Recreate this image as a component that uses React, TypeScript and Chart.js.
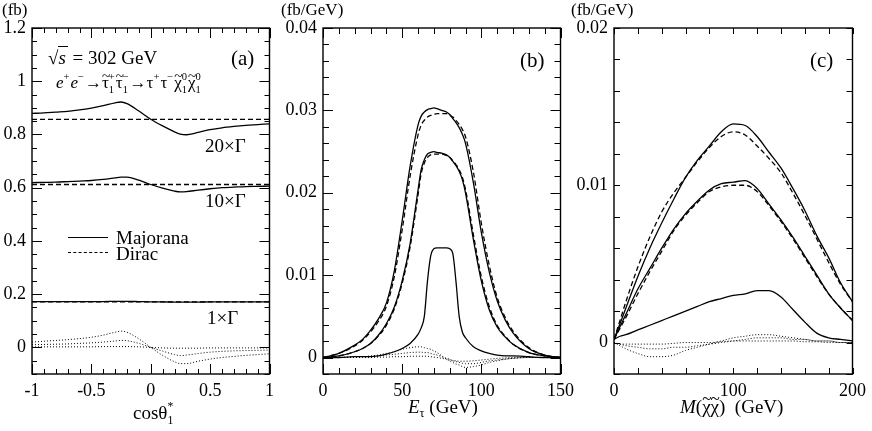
import React, { useEffect, useRef } from "react";
import { Chart, registerables } from "chart.js";

Chart.register(...registerables);

const SERIF = '"Liberation Serif", "Times New Roman", serif';

// ---- panel (a): cos(theta*) distributions (fb) ----
const cosGrid = [-1, -0.9, -0.8, -0.7, -0.6, -0.5, -0.4, -0.3, -0.25, -0.2, -0.1, 0, 0.1, 0.2, 0.25, 0.3, 0.4, 0.5, 0.6, 0.7, 0.8, 0.9, 1];
const cosMajorana20 = [0.879, 0.881, 0.884, 0.887, 0.892, 0.899, 0.908, 0.919, 0.922, 0.916, 0.888, 0.857, 0.832, 0.81, 0.801, 0.799, 0.808, 0.818, 0.825, 0.83, 0.834, 0.837, 0.84];
const cosDirac20 = [0.857, 0.857, 0.857, 0.857, 0.857, 0.857, 0.857, 0.857, 0.857, 0.857, 0.857, 0.857, 0.857, 0.857, 0.857, 0.857, 0.857, 0.857, 0.857, 0.857, 0.857, 0.857, 0.857];
const cosMajorana10 = [0.619, 0.62, 0.621, 0.623, 0.625, 0.627, 0.631, 0.637, 0.64, 0.64, 0.628, 0.612, 0.598, 0.587, 0.584, 0.585, 0.591, 0.596, 0.6, 0.602, 0.604, 0.605, 0.606];
const cosDirac10 = [0.612, 0.612, 0.612, 0.612, 0.612, 0.612, 0.612, 0.612, 0.612, 0.612, 0.612, 0.612, 0.612, 0.612, 0.612, 0.612, 0.612, 0.612, 0.612, 0.612, 0.612, 0.612, 0.612];
const cosMajorana1 = [0.172, 0.172, 0.172, 0.172, 0.172, 0.172, 0.172, 0.173, 0.173, 0.173, 0.172, 0.171, 0.171, 0.17, 0.17, 0.17, 0.17, 0.171, 0.171, 0.171, 0.171, 0.171, 0.171];
const cosDirac1 = [0.171, 0.171, 0.171, 0.171, 0.171, 0.171, 0.171, 0.171, 0.171, 0.171, 0.171, 0.171, 0.171, 0.171, 0.171, 0.171, 0.171, 0.171, 0.171, 0.171, 0.171, 0.171, 0.171];
const cosDiff20 = [0.02, 0.023, 0.026, 0.029, 0.033, 0.038, 0.046, 0.057, 0.061, 0.057, 0.032, 0, -0.03, -0.054, -0.061, -0.061, -0.052, -0.044, -0.038, -0.034, -0.03, -0.027, -0.024];
const cosDiff10 = [0.01, 0.011, 0.012, 0.013, 0.015, 0.017, 0.02, 0.024, 0.026, 0.025, 0.015, 0, -0.014, -0.027, -0.031, -0.029, -0.023, -0.018, -0.015, -0.013, -0.012, -0.011, -0.01];
const cosDiff1 = [0.002, 0.002, 0.002, 0.002, 0.002, 0.002, 0.003, 0.003, 0.003, 0.003, 0.002, 0, -0.002, -0.003, -0.003, -0.003, -0.003, -0.002, -0.002, -0.002, -0.002, -0.002, -0.002];

// ---- panel (b): tau energy (fb/GeV) ----
const eGrid = [0, 10, 20, 25, 30, 35, 40, 45, 50, 55, 60, 62, 64, 66, 68, 70, 72, 75, 78, 80, 82, 84, 86, 88, 90, 95, 100, 105, 110, 115, 120, 130, 140, 150];
const eMajorana20 = [0, 0.0005, 0.0015, 0.0022, 0.0033, 0.0047, 0.0066, 0.0105, 0.0166, 0.0232, 0.0282, 0.0293, 0.0298, 0.0301, 0.0302, 0.0303, 0.0302, 0.03, 0.0298, 0.0295, 0.029, 0.0285, 0.0279, 0.0271, 0.026, 0.0212, 0.0152, 0.0104, 0.0069, 0.0046, 0.003, 0.0011, 0.0003, 0];
const eDirac20 = [0, 0.0005, 0.0014, 0.0021, 0.0031, 0.0044, 0.0062, 0.0098, 0.0155, 0.022, 0.027, 0.0282, 0.0288, 0.0292, 0.0294, 0.0295, 0.0296, 0.0296, 0.0296, 0.0294, 0.0292, 0.0288, 0.0283, 0.0277, 0.0268, 0.0225, 0.0163, 0.0112, 0.0073, 0.0049, 0.0032, 0.0012, 0.0003, 0];
const eMajorana10 = [0, 0.0002, 0.0007, 0.0011, 0.0017, 0.0027, 0.0041, 0.0061, 0.0093, 0.0138, 0.0203, 0.0228, 0.024, 0.0247, 0.0249, 0.025, 0.0249, 0.0248, 0.0246, 0.0243, 0.0238, 0.0233, 0.0226, 0.0216, 0.02, 0.0143, 0.0093, 0.0058, 0.0037, 0.0025, 0.0016, 0.0006, 0.0002, 0];
const eDirac10 = [0, 0.0002, 0.0007, 0.0011, 0.0017, 0.0026, 0.0039, 0.0059, 0.009, 0.0134, 0.0197, 0.0223, 0.0236, 0.0243, 0.0246, 0.0247, 0.0247, 0.0247, 0.0245, 0.0243, 0.0239, 0.0234, 0.0228, 0.0219, 0.0204, 0.0149, 0.0098, 0.0062, 0.0039, 0.0026, 0.0016, 0.0006, 0.0002, 0];
const eMajorana1 = [0, 0, 0.0001, 0.0001, 0.0001, 0.0002, 0.0004, 0.0007, 0.0011, 0.0017, 0.0028, 0.0036, 0.005, 0.0093, 0.0123, 0.0132, 0.0133, 0.0133, 0.0133, 0.0132, 0.0126, 0.0092, 0.005, 0.0031, 0.0024, 0.0013, 0.0008, 0.0005, 0.0003, 0.0002, 0.0002, 0.0001, 0, 0];
const eDiff20 = [0, 0, 0.0001, 0.0001, 0.0002, 0.0003, 0.0005, 0.0007, 0.001, 0.0012, 0.0013, 0.0013, 0.0012, 0.0011, 0.001, 0.0008, 0.0006, 0.0002, -0.0002, -0.0004, -0.0006, -0.0008, -0.0009, -0.0011, -0.0012, -0.0011, -0.0009, -0.0006, -0.0004, -0.0002, -0.0001, 0, 0, 0];
const eDiff10 = [0, 0, 0, 0.0001, 0.0001, 0.0002, 0.0003, 0.0004, 0.0005, 0.0006, 0.00065, 0.00065, 0.0006, 0.0006, 0.0005, 0.0004, 0.0003, 0.0001, -0.0001, -0.0002, -0.0004, -0.0005, -0.0006, -0.0007, -0.00075, -0.00075, -0.0006, -0.0004, -0.0003, -0.0002, -0.0001, 0, 0, 0];
const eDiff1 = [0, 0, 0, 0, 0, 0.00005, 0.00005, 0.0001, 0.0001, 0.00015, 0.00016, 0.00016, 0.00016, 0.00015, 0.0001, 0.00005, 0, -0.0001, -0.0002, -0.0003, -0.00035, -0.0004, -0.00045, -0.00045, -0.00045, -0.0004, -0.0003, -0.0002, -0.0001, -0.00005, 0, 0, 0, 0];

// ---- panel (c): invariant mass of the neutralino pair (fb/GeV) ----
const mGrid = [0, 5, 10, 20, 30, 40, 50, 60, 70, 80, 90, 100, 110, 120, 130, 140, 150, 160, 170, 180, 190, 200];
const mMajorana20 = [0.0002, 0.0012, 0.0022, 0.0042, 0.006, 0.0076, 0.0091, 0.0105, 0.0116, 0.0125, 0.0134, 0.0139, 0.0138, 0.0131, 0.0121, 0.0111, 0.0098, 0.0084, 0.0068, 0.0054, 0.0038, 0.0026];
const mDirac20 = [0.0002, 0.0014, 0.0026, 0.0048, 0.0067, 0.0083, 0.0095, 0.0105, 0.0115, 0.0124, 0.0131, 0.0134, 0.0132, 0.0125, 0.0117, 0.0108, 0.0095, 0.0081, 0.0066, 0.0051, 0.0037, 0.0026];
const mMajorana10 = [0.0002, 0.001, 0.0018, 0.0034, 0.0047, 0.006, 0.0072, 0.0082, 0.009, 0.0097, 0.0101, 0.0102, 0.0103, 0.0098, 0.0088, 0.0078, 0.0067, 0.0055, 0.0043, 0.0031, 0.0022, 0.0014];
const mDirac10 = [0.0002, 0.0009, 0.0016, 0.0031, 0.0045, 0.0058, 0.0071, 0.0081, 0.0089, 0.0096, 0.0099, 0.01, 0.01, 0.0096, 0.0087, 0.0077, 0.0066, 0.0054, 0.0042, 0.0031, 0.0022, 0.0014];
const mMajorana1 = [0.0002, 0.0004, 0.0005, 0.0008, 0.0011, 0.0014, 0.0017, 0.002, 0.0023, 0.0026, 0.0028, 0.003, 0.0031, 0.0033, 0.0033, 0.0029, 0.0021, 0.0013, 0.0006, 0.0003, 0.0002, 0.0001];
const mDiff20 = [0, -0.0002, -0.0004, -0.0007, -0.0009, -0.0009, -0.0008, -0.0005, -0.0003, -0.0001, 0.0001, 0.0003, 0.0004, 0.0005, 0.0005, 0.0004, 0.0003, 0.0002, 0.0001, 0.0001, 0, 0];
const mDiff10 = [0, -0.0001, -0.0002, -0.0003, -0.0004, -0.0004, -0.0003, -0.0003, -0.0002, -0.0001, 0, 0.0001, 0.0002, 0.0003, 0.0003, 0.0003, 0.0002, 0.0002, 0.0001, 0.0001, 0, 0];
const mDiff1 = [0, -0.0001, -0.0001, -0.0001, -0.0001, -0.0001, -0.00005, 0, 0, 0, 0.00005, 0.0001, 0.0001, 0.0001, 0.0001, 0.0001, 0.0001, 0.00005, 0.00005, 0, 0, 0];

type LineKind = "solid" | "dashed" | "dotted";

interface PanelSpec {
  xs: number[];
  series: { y: number[]; kind: LineKind }[];
  x: [number, number, number, number]; // min, max, step, label every
  y: [number, number, number, number];
  axisWidth: number;
  rightPad: number;
  majorLen: number;
  minorLen: number;
}

const isMultiple = (v: number, every: number) => Math.abs(v / every - Math.round(v / every)) < 1e-6;
const fmt = (v: number) => String(+v.toFixed(4));

const kindStyle = (k: LineKind) =>
  k === "solid"
    ? { borderDash: [], borderWidth: 1.3 }
    : k === "dashed"
    ? { borderDash: [5, 3], borderWidth: 1.3 }
    : { borderDash: [1, 2], borderWidth: 1 };

// inward tick marks on all four sides plus the frame
const frameTicks = (majorLen: number, minorLen: number) => ({
  id: "frameTicks",
  afterDatasetsDraw(chart: any) {
    const { ctx, chartArea: a, scales } = chart;
    ctx.save();
    ctx.strokeStyle = "#000";
    ctx.lineWidth = 1;
    ctx.beginPath();
    scales.x.ticks.forEach((t: any) => {
      const px = Math.round(scales.x.getPixelForValue(t.value)) + 0.5;
      const len = t.label ? majorLen : minorLen;
      ctx.moveTo(px, a.bottom);
      ctx.lineTo(px, a.bottom - len);
      ctx.moveTo(px, a.top);
      ctx.lineTo(px, a.top + len);
    });
    scales.y.ticks.forEach((t: any) => {
      const py = Math.round(scales.y.getPixelForValue(t.value)) + 0.5;
      const len = t.label ? majorLen : minorLen;
      ctx.moveTo(a.left, py);
      ctx.lineTo(a.left + len, py);
      ctx.moveTo(a.right, py);
      ctx.lineTo(a.right - len, py);
    });
    ctx.stroke();
    ctx.lineWidth = 1.4;
    ctx.strokeRect(a.left, a.top, a.right - a.left, a.bottom - a.top);
    ctx.restore();
  },
});

const makeChart = (canvas: HTMLCanvasElement, spec: PanelSpec) => {
  const tickFont = { family: SERIF, size: 18 };
  return new Chart(canvas, {
    type: "line",
    data: {
      datasets: spec.series.map((s) => ({
        data: spec.xs.map((x, i) => ({ x, y: s.y[i] })),
        borderColor: "#000",
        pointRadius: 0,
        fill: false,
        cubicInterpolationMode: "monotone",
        ...kindStyle(s.kind),
      })),
    },
    options: {
      animation: false,
      responsive: false,
      events: [],
      layout: { padding: { top: 28, right: spec.rightPad, left: 0, bottom: 0 } },
      plugins: { legend: { display: false }, tooltip: { enabled: false } },
      scales: {
        x: {
          type: "linear",
          min: spec.x[0],
          max: spec.x[1],
          grid: { display: false, drawTicks: false },
          border: { display: false },
          ticks: {
            stepSize: spec.x[2],
            autoSkip: false,
            maxRotation: 0,
            padding: 6,
            color: "#000",
            font: tickFont,
            callback: (v: any) => (isMultiple(v, spec.x[3]) ? fmt(v) : ""),
          },
          afterFit: (s: any) => {
            s.height = 57;
          },
        },
        y: {
          type: "linear",
          min: spec.y[0],
          max: spec.y[1],
          grid: { display: false, drawTicks: false },
          border: { display: false },
          ticks: {
            stepSize: spec.y[2],
            autoSkip: false,
            padding: 6,
            color: "#000",
            font: tickFont,
            callback: (v: any) => (isMultiple(v, spec.y[3]) ? fmt(v) : ""),
          },
          afterFit: (s: any) => {
            s.width = spec.axisWidth;
          },
        },
      },
    } as any,
    plugins: [frameTicks(spec.majorLen, spec.minorLen)],
  } as any);
};

const panelA: PanelSpec = {
  xs: cosGrid,
  series: [
    { y: cosMajorana20, kind: "solid" },
    { y: cosDirac20, kind: "dashed" },
    { y: cosMajorana10, kind: "solid" },
    { y: cosDirac10, kind: "dashed" },
    { y: cosMajorana1, kind: "solid" },
    { y: cosDirac1, kind: "dashed" },
    { y: cosDiff20, kind: "dotted" },
    { y: cosDiff10, kind: "dotted" },
    { y: cosDiff1, kind: "dotted" },
  ],
  x: [-1, 1, 0.1, 0.5],
  y: [-0.1, 1.2, 0.05, 0.2],
  axisWidth: 32,
  rightPad: 6,
  majorLen: 10,
  minorLen: 5,
};

const panelB: PanelSpec = {
  xs: eGrid,
  series: [
    { y: eMajorana20, kind: "solid" },
    { y: eDirac20, kind: "dashed" },
    { y: eMajorana10, kind: "solid" },
    { y: eDirac10, kind: "dashed" },
    { y: eMajorana1, kind: "solid" },
    { y: eDiff20, kind: "dotted" },
    { y: eDiff10, kind: "dotted" },
    { y: eDiff1, kind: "dotted" },
  ],
  x: [0, 150, 10, 50],
  y: [-0.002, 0.04, 0.002, 0.01],
  axisWidth: 43,
  rightPad: 15,
  majorLen: 10,
  minorLen: 6,
};

const panelC: PanelSpec = {
  xs: mGrid,
  series: [
    { y: mMajorana20, kind: "solid" },
    { y: mDirac20, kind: "dashed" },
    { y: mMajorana10, kind: "solid" },
    { y: mDirac10, kind: "dashed" },
    { y: mMajorana1, kind: "solid" },
    { y: mDiff20, kind: "dotted" },
    { y: mDiff10, kind: "dotted" },
    { y: mDiff1, kind: "dotted" },
  ],
  x: [0, 200, 20, 100],
  y: [-0.002, 0.02, 0.002, 0.01],
  axisWidth: 44,
  rightPad: 17,
  majorLen: 6,
  minorLen: 6,
};

const Text = ({ x, y, size = 18, children }: any) => (
  <div
    style={{
      position: "absolute",
      left: x,
      top: y,
      fontSize: size,
      lineHeight: 1,
      whiteSpace: "nowrap",
    }}
  >
    {children}
  </div>
);

// stacked superscript / subscript
const SS = ({ sup, sub }: { sup?: string; sub?: string }) => {
  const wide = (sup ?? "").length >= (sub ?? "").length ? sup : sub;
  return (
    <span
      style={{
        display: "inline-block",
        position: "relative",
        fontSize: "0.62em",
        lineHeight: 1,
        marginRight: 1,
      }}
    >
      <span style={{ visibility: "hidden" }}>{wide}</span>
      {sup && <span style={{ position: "absolute", left: 0, top: "-0.75em" }}>{sup}</span>}
      {sub && <span style={{ position: "absolute", left: 0, top: "0.45em" }}>{sub}</span>}
    </span>
  );
};

// letter with a tilde above
const Tl = ({ children }: any) => (
  <span style={{ display: "inline-block", position: "relative" }}>
    {children}
    <span
      style={{
        position: "absolute",
        left: 0,
        width: "100%",
        textAlign: "center",
        top: "-0.42em",
        fontSize: "0.9em",
      }}
    >
      ~
    </span>
  </span>
);

const App = () => {
  const aRef = useRef<HTMLCanvasElement>(null);
  const bRef = useRef<HTMLCanvasElement>(null);
  const cRef = useRef<HTMLCanvasElement>(null);

  useEffect(() => {
    const charts = [
      makeChart(aRef.current!, panelA),
      makeChart(bRef.current!, panelB),
      makeChart(cRef.current!, panelC),
    ];
    return () => charts.forEach((c) => c.destroy());
  }, []);

  return (
    <div
      style={{
        position: "absolute",
        left: 0,
        top: 0,
        width: 872,
        height: 431,
        background: "#fff",
        color: "#000",
        fontFamily: SERIF,
        overflow: "hidden",
      }}
    >
      <canvas ref={aRef} width={280} height={431} style={{ position: "absolute", left: 0, top: 0 }} />
      <canvas ref={bRef} width={300} height={431} style={{ position: "absolute", left: 280, top: 0 }} />
      <canvas ref={cRef} width={302} height={431} style={{ position: "absolute", left: 570, top: 0 }} />

      <Text x={2} y={1} size={17}>(fb)</Text>
      <Text x={281} y={1} size={17}>(fb/GeV)</Text>
      <Text x={571} y={1} size={17}>(fb/GeV)</Text>

      <Text x={48} y={48} size={19}>
        √<span style={{ borderTop: "1px solid #000", fontStyle: "italic", paddingRight: 2 }}>s</span> = 302 GeV
      </Text>
      <Text x={56} y={74} size={17}>
        <i>e</i>
        <SS sup="+" />
        <i>e</i>
        <SS sup="−" />→<Tl>τ</Tl>
        <SS sup="+" sub="1" />
        <Tl>τ</Tl>
        <SS sup="−" sub="1" />→τ<SS sup="+" />τ<SS sup="−" />
        <Tl>χ</Tl>
        <SS sup="0" sub="1" />
        <Tl>χ</Tl>
        <SS sup="0" sub="1" />
      </Text>
      <Text x={231} y={48} size={21}>(a)</Text>
      <Text x={520} y={50} size={21}>(b)</Text>
      <Text x={810} y={50} size={21}>(c)</Text>

      <Text x={205} y={136} size={19}>20×Γ</Text>
      <Text x={205} y={191} size={19}>10×Γ</Text>
      <Text x={207} y={308} size={19}>1×Γ</Text>

      <div style={{ position: "absolute", left: 68, top: 237, width: 40, borderTop: "1.3px solid #000" }} />
      <Text x={116} y={228} size={19}>Majorana</Text>
      <div style={{ position: "absolute", left: 68, top: 252, width: 40, borderTop: "1.3px dashed #000" }} />
      <Text x={116} y={244} size={19}>Dirac</Text>

      <Text x={133} y={403} size={19}>
        cosθ<SS sup="*" sub="1" />
      </Text>
      <Text x={408} y={397} size={19}>
        <i>E</i>
        <span style={{ fontSize: "0.65em", verticalAlign: "-0.35em" }}>τ</span> (GeV)
      </Text>
      <Text x={680} y={397} size={19}>
        <i>M</i>(<Tl>χ</Tl><Tl>χ</Tl>)&nbsp; (GeV)
      </Text>
    </div>
  );
};

export default App;
